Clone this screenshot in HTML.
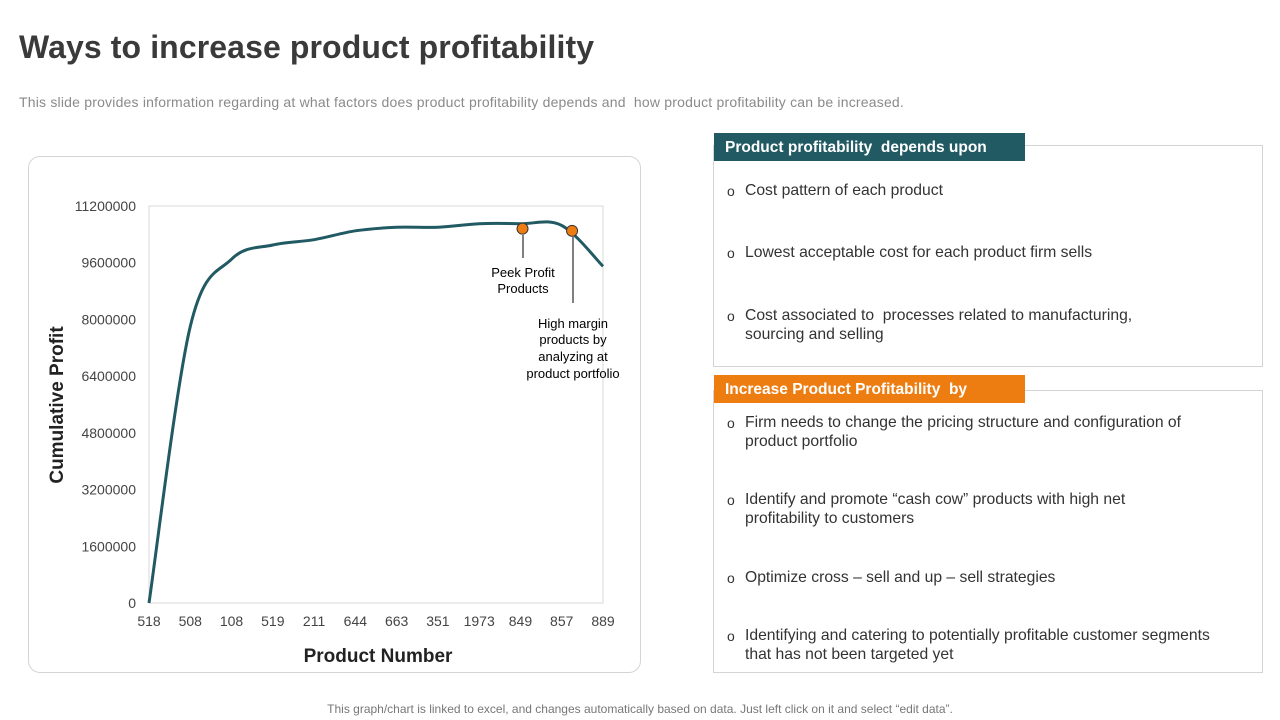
<!DOCTYPE html>
<html><head><meta charset="utf-8"><style>
body{margin:0;width:1280px;height:720px;background:#fff;font-family:"Liberation Sans",sans-serif;position:relative;overflow:hidden}
.abs{position:absolute}
h1{position:absolute;left:19px;top:29px;margin:0;font-size:32px;letter-spacing:0.1px;font-weight:bold;color:#3a3a3a}
.sub{left:19px;top:94px;font-size:14px;letter-spacing:0.2px;color:#8a8a8a}
.box{border:1px solid #d4d4d4;background:#fff}
.hdr{color:#fff;font-weight:bold;font-size:15.5px;padding-left:11px;line-height:30px;height:28px}
.item{font-size:15.7px;color:#333;line-height:19px;padding-left:31px;position:absolute;left:0}
.item:before{content:"o";position:absolute;left:13px;top:1px;font-size:14px}
.foot{left:0;width:1280px;text-align:center;top:702px;font-size:12px;color:#777}
</style></head><body>
<h1>Ways to increase product profitability</h1>
<div class="abs sub">This slide provides information regarding at what factors does product profitability depends and&nbsp; how product profitability can be increased.</div>
<div class="abs box" style="left:28px;top:156px;width:611px;height:515px;border-radius:12px"></div>
<svg class="abs" style="left:0;top:0" width="1280" height="720" id="chart"></svg>

<div class="abs box" style="left:713px;top:145px;width:548px;height:220px">
<div class="item" style="top:35px">Cost pattern of each product</div>
<div class="item" style="top:97px">Lowest acceptable cost for each product firm sells</div>
<div class="item" style="top:160px">Cost associated to&nbsp; processes related to manufacturing,<br>sourcing and selling</div>
</div>
<div class="abs hdr" style="left:714px;top:133px;width:300px;background:#215a63">Product profitability&nbsp; depends upon</div>
<div class="abs box" style="left:713px;top:390px;width:548px;height:281px">
<div class="item" style="top:22px">Firm needs to change the pricing structure and configuration of<br>product portfolio</div>
<div class="item" style="top:99px">Identify and promote “cash cow” products with high net<br>profitability to customers</div>
<div class="item" style="top:177px">Optimize cross – sell and up – sell strategies</div>
<div class="item" style="top:235px">Identifying and catering to potentially profitable customer segments<br>that has not been targeted yet</div>
</div>
<div class="abs hdr" style="left:714px;top:375px;width:300px;background:#ee7d11">Increase Product Profitability&nbsp; by</div>
<div class="abs foot">This graph/chart is linked to excel, and changes automatically based on data. Just left click on it and select “edit data”.</div>
<script>
const categories=["518","508","108","519","211","644","663","351","1973","849","857","889"];
const profits=[0,7800000,9700000,10100000,10250000,10500000,10600000,10600000,10700000,10700000,10650000,9500000];
const yTicks=[0,1600000,3200000,4800000,6400000,8000000,9600000,11200000];
const markerIdx=[9.05,10.25];
const markerVals=[10560000,10500000];
const ns="http://www.w3.org/2000/svg",svg=document.getElementById('chart');
const X0=149,X1=603,Y0=603,Y1=206,YMAX=11200000;
const xs=i=>X0+i*(X1-X0)/(categories.length-1);
const ys=v=>Y0-v/YMAX*(Y0-Y1);
function el(t,a,txt){const e=document.createElementNS(ns,t);for(const k in a)e.setAttribute(k,a[k]);if(txt!=null)e.textContent=txt;svg.appendChild(e);return e;}
let r=el('rect',{x:X0,y:Y1,width:X1-X0,height:Y0-Y1,fill:'none',stroke:'#d9d9d9'});


yTicks.forEach(v=>{const t=el('text',{x:136,y:ys(v)+5,'text-anchor':'end','font-size':14,fill:'#444'},v);

});
categories.forEach((c,i)=>{const t=el('text',{x:xs(i),y:626,'text-anchor':'middle','font-size':14,fill:'#444'},c);

});
let d='M'+xs(0)+','+ys(profits[0]);
const P=profits.map((v,i)=>[xs(i),ys(v)]);
for(let i=0;i<P.length-1;i++){const p0=P[Math.max(0,i-1)],p1=P[i],p2=P[i+1],p3=P[Math.min(P.length-1,i+2)];
d+=` C${p1[0]+(p2[0]-p0[0])/6},${p1[1]+(p2[1]-p0[1])/6} ${p2[0]-(p3[0]-p1[0])/6},${p2[1]-(p3[1]-p1[1])/6} ${p2[0]},${p2[1]}`;}
let l=el('path',{d:d,fill:'none',stroke:'#215a63','stroke-width':3});


el('line',{x1:523,y1:235,x2:523,y2:258,stroke:'#000'});
el('line',{x1:573,y1:237,x2:573,y2:303,stroke:'#000'});
markerIdx.forEach((m,i)=>{const c=el('circle',{cx:xs(m),cy:ys(markerVals[i]),r:5.5,fill:'#ee7d11',stroke:'#333','stroke-width':1});

});
[["Peek Profit",523,277],["Products",523,293],["High margin",573,328],["products by",573,344],["analyzing at",573,361],["product portfolio",573,378]].forEach(a=>{const t=el('text',{x:a[1],y:a[2],'text-anchor':'middle','font-size':13,fill:'#000'},a[0]);

});
let xt=el('text',{x:378,y:662,'text-anchor':'middle','font-size':19,'font-weight':'bold',fill:'#222'},'Product Number');


let yt=el('text',{x:0,y:0,'text-anchor':'middle','font-size':19,'font-weight':'bold',fill:'#222',transform:'translate(63,405) rotate(-90)'},'Cumulative Profit');


</script>
</body></html>
